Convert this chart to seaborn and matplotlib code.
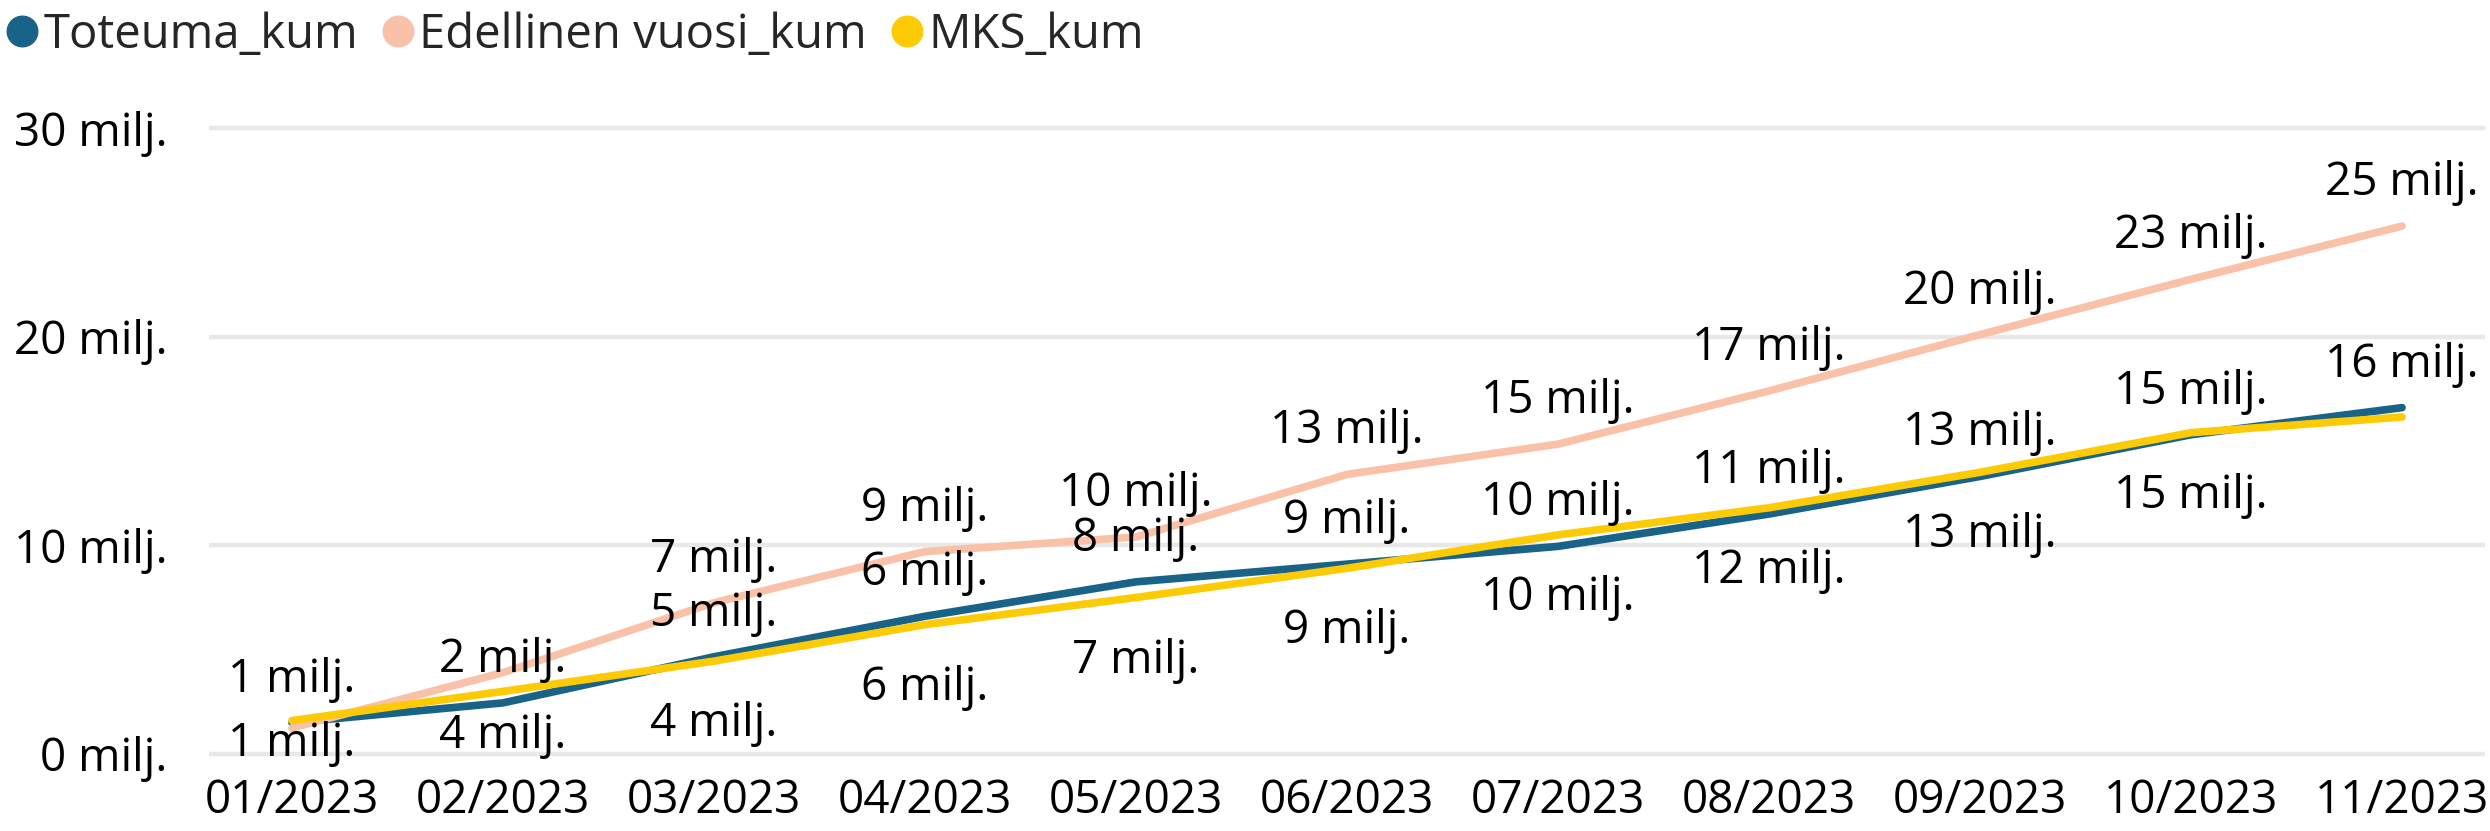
import numpy as np
import pandas as pd
import matplotlib
matplotlib.use("Agg")
import matplotlib.pyplot as plt
from matplotlib.lines import Line2D
import seaborn as sns

# --- data (millions) ---
months = ["01/2023", "02/2023", "03/2023", "04/2023", "05/2023", "06/2023",
          "07/2023", "08/2023", "09/2023", "10/2023", "11/2023"]
toteuma = [1.5, 2.45, 4.66, 6.6, 8.25, 9.1, 9.95, 11.5, 13.3, 15.3, 16.6]
edellinen = [1.25, 3.9, 7.25, 9.7, 10.4, 13.4, 14.85, 17.4, 20.1, 22.75, 25.3]
mks = [1.6, 3.0, 4.45, 6.2, 7.5, 8.9, 10.5, 11.8, 13.5, 15.4, 16.15]

# data labels as shown in the chart (None = label hidden)
toteuma_lbl = [1, 2, 5, 6, 8, 9, 10, 11, 13, 15, 16]
edellinen_lbl = [1, 4, 7, 9, 10, 13, 15, 17, 20, 23, 25]
mks_lbl = [None, None, 4, 6, 7, 9, 10, 12, 13, 15, None]

y_ticks = [0, 10, 20, 30]
series_names = ["Toteuma_kum", "Edellinen vuosi_kum", "MKS_kum"]

# --- style ---
colors = {"Toteuma_kum": "#1A6388", "Edellinen vuosi_kum": "#F9C1A7", "MKS_kum": "#FDCB05"}
label_side = {
    "Toteuma_kum": ["above"] * 11,
    "Edellinen vuosi_kum": ["below", "below"] + ["above"] * 9,
    "MKS_kum": ["below"] * 11,
}
FS = 33

sns.set_theme(style="white")
plt.rcParams["font.family"] = ["Open Sans", "DejaVu Sans"]

W, H, DPI = 2490, 831, 100
fig = plt.figure(figsize=(W / DPI, H / DPI), dpi=DPI)

# axes placed in pixels: y=0 at 754px, y=30 at 128px (from top)
px_per_unit = (754 - 128) / 30
ypad = 0.2
bottom_px = 754 + ypad * px_per_unit
top_px = 128 - ypad * px_per_unit
ax = fig.add_axes([209 / W, (H - bottom_px) / H, (2485 - 209) / W, (bottom_px - top_px) / H])

df = pd.DataFrame({
    "idx": list(range(len(months))) * 3,
    "value": toteuma + edellinen + mks,
    "series": [s for s in series_names for _ in months],
})

sns.lineplot(data=df, x="idx", y="value", hue="series", hue_order=series_names,
             palette=colors, linewidth=5.5, legend=False, sort=False, ax=ax,
             solid_capstyle="round", clip_on=False)

ax.set_xlim(-0.393, 10.393)
ax.set_ylim(-ypad, 30 + ypad)
ax.set_xticks(range(len(months)))
ax.set_xticklabels(months)
ax.set_yticks(y_ticks)
ax.set_yticklabels([f"{t} milj." for t in y_ticks])
ax.tick_params(axis="y", length=0, pad=30, labelsize=FS, labelcolor="black")
ax.tick_params(axis="x", length=0, pad=14, labelsize=FS, labelcolor="black")
ax.set_xlabel("")
ax.set_ylabel("")
for sp in ax.spines.values():
    sp.set_visible(False)
ax.grid(axis="y", color="#E8E8E8", linewidth=3.2)
ax.grid(axis="x", visible=False)
ax.set_axisbelow(True)

# data labels, placed like the Power BI labels (pixel offsets from point)
zero_px = ax.transData.transform((0, 0))[1]
for name, vals, lbls in [("Toteuma_kum", toteuma, toteuma_lbl),
                         ("Edellinen vuosi_kum", edellinen, edellinen_lbl),
                         ("MKS_kum", mks, mks_lbl)]:
    for i, (v, l) in enumerate(zip(vals, lbls)):
        if l is None:
            continue
        py = ax.transData.transform((i, v))[1]
        if label_side[name][i] == "above":
            off = 31
        else:
            off = -75
            if py + off < zero_px - 2:
                off = zero_px - 2 - py
        ax.annotate(f"{l} milj.", xy=(i, v), xytext=(0, off), textcoords="offset pixels",
                    ha="center", va="baseline", fontsize=FS, color="black",
                    annotation_clip=False)

handles = [Line2D([0], [0], marker="o", ls="none", markersize=22, color=colors[s])
           for s in series_names]
fig.legend(handles, series_names, loc="center left", bbox_to_anchor=(3 / W, 1 - 35 / H),
           ncol=3, frameon=False, fontsize=34, handletextpad=0.05, columnspacing=0.45,
           handlelength=0.8, borderpad=0, borderaxespad=0)

fig.savefig("out.png", dpi=DPI)
